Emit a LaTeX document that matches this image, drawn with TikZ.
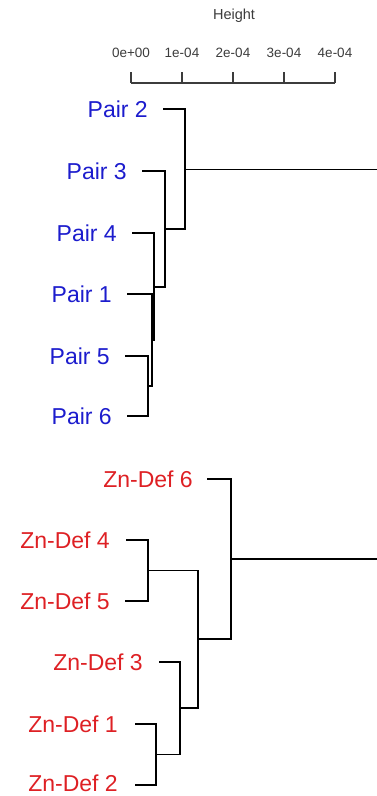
\documentclass[tikz,border=0pt]{standalone}
\usepackage{fontspec}
\setmainfont{Liberation Sans}
\usetikzlibrary{calc}
\definecolor{pairblue}{RGB}{28,28,205}
\definecolor{znred}{RGB}{222,32,36}
\definecolor{axgray}{RGB}{60,60,60}
\begin{document}
\begin{tikzpicture}[x=1pt,y=-1pt,
  branch/.style={line width=1.3pt,black,line cap=rect},
  axisline/.style={line width=1.2pt,axgray},
  ticklab/.style={font=\fontsize{13.5}{14}\selectfont,text=axgray,anchor=center,inner sep=0pt},
  pairlab/.style={font=\fontsize{23}{23}\selectfont,text=pairblue,anchor=base east,inner sep=0pt},
  znlab/.style={font=\fontsize{23}{23}\selectfont,text=znred,anchor=base east,inner sep=0pt}]
\useasboundingbox (0,0) rectangle (376,796);
% axis
\node[font=\fontsize{14.5}{15}\selectfont,text=axgray,inner sep=0pt] (htitle) at (234,16) {Height};
\foreach \v/\lab [count=\i] in {131/0e+00,182/1e-04,233/2e-04,284/3e-04,335/4e-04}{
  \coordinate (tk\i) at (\v,72);
  \coordinate (tb\i) at (\v,83);
  \node[ticklab] (tl\i) at (\v,53) {\lab};
  \draw[axisline] (tk\i) -- (tb\i);
}
\draw[axisline] (tb1) -- (tb5);
% top tree leaves
\coordinate (P2) at (164,109);
\coordinate (P3) at (143,171);
\coordinate (P4) at (133,233);
\coordinate (P1) at (128,294);
\coordinate (P5) at (126,356);
\coordinate (P6) at (128,416);
\node[pairlab] (lP2) at ($(P2)+(-16,8.2)$) {Pair 2};
\node[pairlab] (lP3) at ($(P3)+(-16,8.2)$) {Pair 3};
\node[pairlab] (lP4) at ($(P4)+(-16,8.2)$) {Pair 4};
\node[pairlab] (lP1) at ($(P1)+(-16,8.2)$) {Pair 1};
\node[pairlab] (lP5) at ($(P5)+(-16,8.2)$) {Pair 5};
\node[pairlab] (lP6) at ($(P6)+(-16,8.2)$) {Pair 6};
% top tree merges
\coordinate (M56) at (148,386);
\coordinate (M156) at (152,340);
\coordinate (M4) at (154,287);
\coordinate (M3) at (165,229);
\coordinate (M2) at (185,169.5);
\coordinate (Rtop) at (376,169.5);
\draw[branch] (P5) -- (P5 -| M56) -- (P6 -| M56) -- (P6);
\draw[branch] (P1) -- (P1 -| M156) -- (M56 -| M156) -- (M56);
\draw[branch] (P4) -- (P4 -| M4) -- (M156 -| M4) -- (M156);
\draw[branch] (P3) -- (P3 -| M3) -- (M4 -| M3) -- (M4);
\draw[branch] (P2) -- (P2 -| M2) -- (M3 -| M2) -- (M3);
\draw[branch] (M2) -- (Rtop);
% bottom tree leaves
\coordinate (Z6) at (208,479);
\coordinate (Z4) at (127,540);
\coordinate (Z5) at (126,601);
\coordinate (Z3) at (160,662);
\coordinate (Z1) at (136,724);
\coordinate (Z2) at (136,785);
\node[znlab] (lZ6) at ($(Z6)+(-15,8.2)$) {Zn-Def 6};
\node[znlab] (lZ4) at ($(Z4)+(-17,8.2)$) {Zn-Def 4};
\node[znlab] (lZ5) at ($(Z5)+(-16,8.2)$) {Zn-Def 5};
\node[znlab] (lZ3) at ($(Z3)+(-17,8.2)$) {Zn-Def 3};
\node[znlab] (lZ1) at ($(Z1)+(-18,8.2)$) {Zn-Def 1};
\node[znlab] (lZ2) at ($(Z2)+(-18,6.6)$) {Zn-Def 2};
% bottom tree merges
\coordinate (M45) at (148,570.5);
\coordinate (M12) at (156,754.5);
\coordinate (M312) at (180,708);
\coordinate (MA) at (198,639);
\coordinate (MR) at (231,559);
\coordinate (Rbot) at (376,559);
\draw[branch] (Z4) -- (Z4 -| M45) -- (Z5 -| M45) -- (Z5);
\draw[branch] (Z1) -- (Z1 -| M12) -- (Z2 -| M12) -- (Z2);
\draw[branch] (Z3) -- (Z3 -| M312) -- (M12 -| M312) -- (M12);
\draw[branch] (M45) -- (M45 -| MA) -- (M312 -| MA) -- (M312);
\draw[branch] (Z6) -- (Z6 -| MR) -- (MA -| MR) -- (MA);
\draw[branch] (MR) -- (Rbot);
\end{tikzpicture}
\end{document}
